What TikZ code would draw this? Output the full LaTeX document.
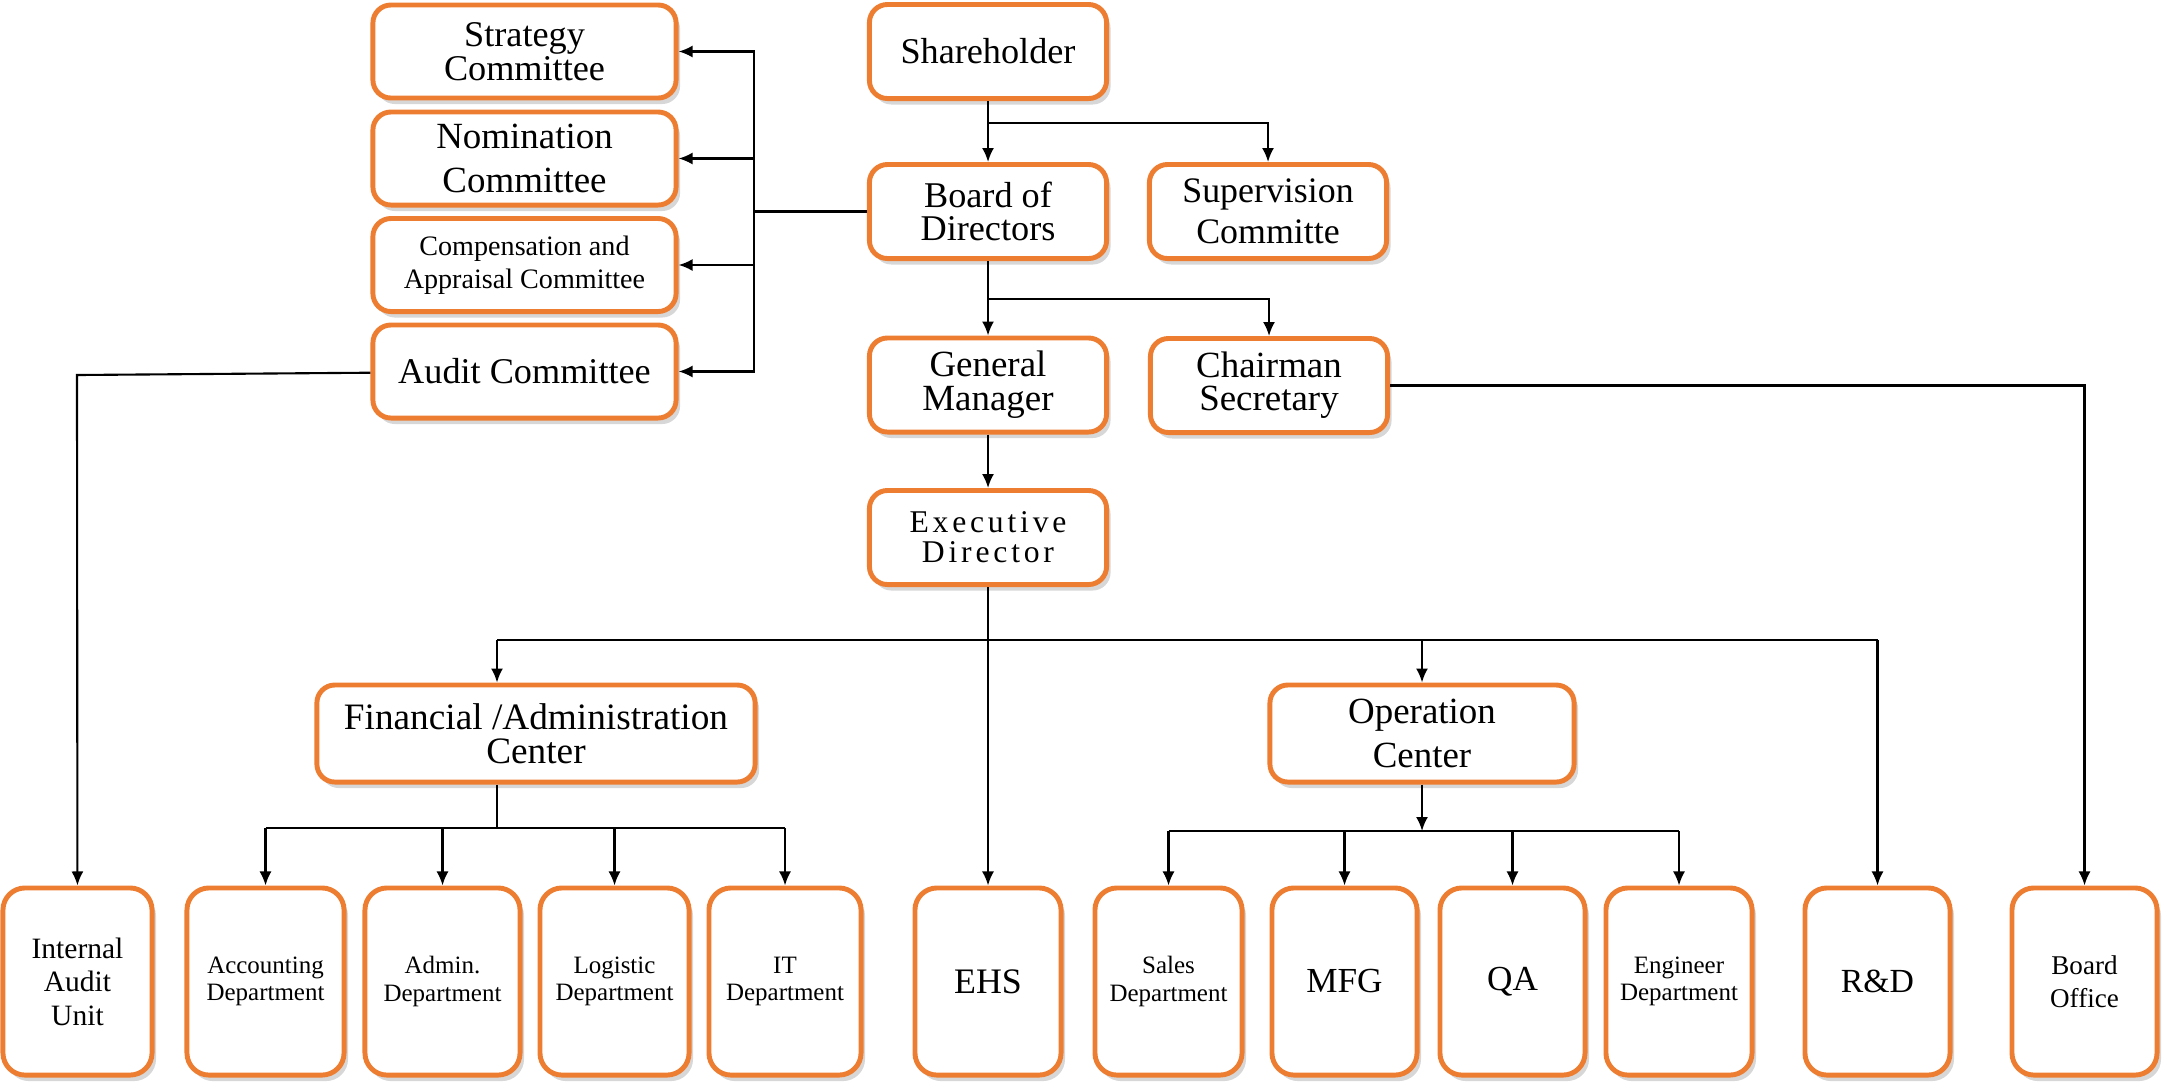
\documentclass[tikz,border=0pt]{standalone}
\usepackage{fontspec}
\setmainfont{Liberation Serif}
\usetikzlibrary{arrows.meta,shadows}
\definecolor{korange}{RGB}{237,125,49}
\tikzset{
  box/.style={draw=korange, line width=1.4pt, fill=white, rounded corners=0.18cm, align=center, inner sep=0pt,
    drop shadow={shadow xshift=0.04cm, shadow yshift=-0.06cm, fill=black!45, opacity=0.35},
    font=\fontsize{10.3}{9.6}\selectfont},
  kcommittee/.style={box, minimum width=3.03cm, minimum height=0.93cm},
  kexec/.style={box, minimum width=2.37cm, minimum height=0.94cm},
  kcenter/.style={box, minimum height=0.97cm},
  kunit/.style={box, minimum height=1.87cm, rounded corners=0.22cm, font=\fontsize{7.1}{7.7}\selectfont},
  wire/.style={line width=0.6pt},
  flow/.style={wire, -{Latex[length=1.4mm, width=1.2mm]}},
}
\begin{document}
\begin{tikzpicture}[x=0.01cm, y=-0.01cm]
    \useasboundingbox (0,0) rectangle (2172,1090);
    % committees
    \node[kcommittee] (strat) at (524.5,51.5) {Strategy\\Committee};
    \node[kcommittee, font=\fontsize{10.5}{12.3}\selectfont] (nomin) at (524.5,158.5) {Nomination\\Committee};
    \node[kcommittee, font=\fontsize{8}{9.4}\selectfont] (comp) at (524.5,265) {Compensation and\\Appraisal Committee};
    \node[kcommittee] (audit) at (524.5,371.5) {Audit Committee};
    % governance
    \node[kexec] (share) at (988,51.5) {Shareholder};
    \node[kexec] (board) at (988,211.5) {Board of\\Directors};
    \node[kexec, font=\fontsize{10.2}{11.8}\selectfont] (superv) at (1268,211.5) {Supervision\\Committe};
    \node[kexec, font=\fontsize{10.5}{9.6}\selectfont] (gm) at (988,385) {General\\Manager};
    \node[kexec, font=\fontsize{10.5}{9.4}\selectfont] (csec) at (1269,385.5) {Chairman\\Secretary};
    \node[kexec, font={\fontsize{9}{8.6}\selectfont\addfontfeatures{LetterSpace=12}}] (exec) at (988,537.5) {Executive\\Director};
    % centers
    \node[kcenter, minimum width=4.38cm, font=\fontsize{10.6}{9.6}\selectfont] (fin) at (536,733.5) {Financial /Administration\\Center};
    \node[kcenter, minimum width=3.04cm, font=\fontsize{10.5}{12.3}\selectfont] (oper) at (1422,733.5) {Operation\\Center};
    % units
    \node[kunit, minimum width=1.49cm, font=\fontsize{8.4}{9.5}\selectfont] (iau) at (77.5,981.5) {Internal\\Audit\\Unit};
    \node[kunit, minimum width=1.57cm] (acc) at (265.5,981.5) {Accounting\\Department};
    \node[kunit, minimum width=1.55cm] (adm) at (442.5,981.5) {Admin.\\Department};
    \node[kunit, minimum width=1.49cm] (logi) at (614.5,981.5) {Logistic\\Department};
    \node[kunit, minimum width=1.52cm] (it) at (785,981.5) {IT\\Department};
    \node[kunit, minimum width=1.46cm, font=\fontsize{10.2}{11}\selectfont] (ehs) at (988,981.5) {EHS};
    \node[kunit, minimum width=1.47cm] (sales) at (1168.5,981.5) {Sales\\Department};
    \node[kunit, minimum width=1.45cm, font=\fontsize{10}{11}\selectfont] (mfg) at (1344.5,981.5) {MFG};
    \node[kunit, minimum width=1.45cm, font=\fontsize{10}{11}\selectfont] (qa) at (1512.5,981.5) {QA};
    \node[kunit, minimum width=1.46cm] (eng) at (1679,981.5) {Engineer\\Department};
    \node[kunit, minimum width=1.45cm, font=\fontsize{9.6}{11}\selectfont] (rd) at (1877.5,981.5) {R\&D};
    \node[kunit, minimum width=1.45cm, font=\fontsize{7.7}{9.4}\selectfont] (boff) at (2084.5,981.5) {Board\\Office};
    % junctions
    \coordinate (jshare) at (988,123);
    \coordinate (jboard) at (988,299);
    \coordinate (jcom) at (754,211.5);
    \coordinate (jaudit) at (77,375);
    \coordinate (jexec) at (988,640);
    \coordinate (jfinl) at (497,640);
    \coordinate (jrd) at (1877.5,640);
    \coordinate (jfin) at (497,828);
    \coordinate (joper) at (1422,831);
    % top links
    \draw[flow] (share) -- (board);
    \draw[flow] (jshare) -| (superv);
    \draw[flow] (board) -- (gm);
    \draw[flow] (jboard) -| (csec);
    \draw[flow] (gm) -- (exec);
    \draw[wire] (board) -- (jcom);
    \draw[flow] (jcom) |- (strat);
    \draw[flow] (jcom) |- (nomin);
    \draw[flow] (jcom) |- (comp);
    \draw[flow] (jcom) |- (audit);
    \draw[flow] (audit) -- (jaudit) -- (iau);
    \draw[flow] (csec) -| (boff);
    % executive bus
    \draw[wire] (exec) -- (jexec);
    \draw[wire] (jfinl) -- (jrd);
    \draw[flow] (jfinl) -- (jfinl |- fin.north);
    \draw[flow] (jexec) -- (ehs);
    \draw[flow] (jexec -| oper) -- (oper);
    \draw[flow] (jrd) -- (rd);
    % financial bus
    \draw[wire] (jfin |- fin.south) -- (jfin);
    \draw[wire] (jfin -| acc) -- (jfin -| it);
    \draw[flow] (jfin -| acc) -- (acc);
    \draw[flow] (jfin -| adm) -- (adm);
    \draw[flow] (jfin -| logi) -- (logi);
    \draw[flow] (jfin -| it) -- (it);
    % operation bus
    \draw[flow] (oper) -- (joper);
    \draw[wire] (joper -| sales) -- (joper -| eng);
    \draw[flow] (joper -| sales) -- (sales);
    \draw[flow] (joper -| mfg) -- (mfg);
    \draw[flow] (joper -| qa) -- (qa);
    \draw[flow] (joper -| eng) -- (eng);
\end{tikzpicture}
\end{document}
